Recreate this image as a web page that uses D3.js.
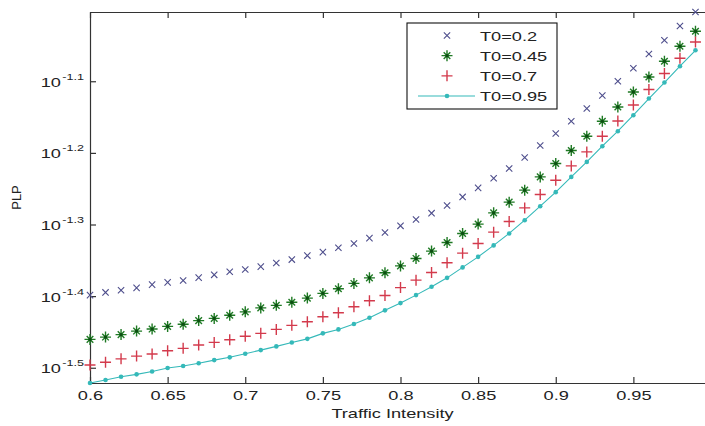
<!DOCTYPE html>
<html>
<head>
<meta charset="utf-8">
<script src="https://cdn.jsdelivr.net/npm/d3@7"></script>
<style>
  body { margin: 0; background: #fff; }
  svg { display: block; }
  text { font-family: "Liberation Sans", Arial, sans-serif; fill: #222; }
</style>
</head>
<body>
<svg id="svg"></svg>
<script>
// traffic intensity values (x)
const intensity = [0.60, 0.61, 0.62, 0.63, 0.64, 0.65, 0.66, 0.67, 0.68, 0.69,
  0.70, 0.71, 0.72, 0.73, 0.74, 0.75, 0.76, 0.77, 0.78, 0.79,
  0.80, 0.81, 0.82, 0.83, 0.84, 0.85, 0.86, 0.87, 0.88, 0.89,
  0.90, 0.91, 0.92, 0.93, 0.94, 0.95, 0.96, 0.97, 0.98, 0.99];

// PLP
const plpT02 = [0.03994, 0.04029, 0.04056, 0.04088, 0.04131, 0.04161, 0.04187, 0.04225, 0.04263, 0.04305,
  0.04338, 0.04377, 0.04429, 0.04477, 0.04535, 0.04586, 0.04650, 0.04716, 0.04797, 0.04885,
  0.04990, 0.05094, 0.05198, 0.05328, 0.05477, 0.05638, 0.05816, 0.06001, 0.06216, 0.06461,
  0.06715, 0.06985, 0.07276, 0.07587, 0.07943, 0.08282, 0.08671, 0.09062, 0.09487, 0.09924];
const plpT045 = [0.03464, 0.03490, 0.03518, 0.03558, 0.03581, 0.03612, 0.03637, 0.03680, 0.03706, 0.03743,
  0.03785, 0.03833, 0.03865, 0.03903, 0.03956, 0.04016, 0.04076, 0.04147, 0.04222, 0.04291,
  0.04387, 0.04494, 0.04601, 0.04731, 0.04870, 0.05018, 0.05203, 0.05385, 0.05597, 0.05841,
  0.06098, 0.06358, 0.06657, 0.06985, 0.07314, 0.07675, 0.08054, 0.08470, 0.08889, 0.09327];
const plpT07 = [0.03190, 0.03218, 0.03254, 0.03283, 0.03305, 0.03340, 0.03366, 0.03402, 0.03431, 0.03460,
  0.03499, 0.03532, 0.03577, 0.03624, 0.03666, 0.03725, 0.03773, 0.03847, 0.03922, 0.03990,
  0.04092, 0.04191, 0.04296, 0.04431, 0.04571, 0.04716, 0.04890, 0.05061, 0.05287, 0.05520,
  0.05779, 0.06051, 0.06329, 0.06657, 0.06992, 0.07361, 0.07734, 0.08142, 0.08553, 0.09012];
const plpT095 = [0.03011, 0.03040, 0.03072, 0.03096, 0.03124, 0.03159, 0.03180, 0.03208, 0.03241, 0.03270,
  0.03308, 0.03347, 0.03387, 0.03429, 0.03470, 0.03532, 0.03577, 0.03639, 0.03713, 0.03803,
  0.03893, 0.03994, 0.04102, 0.04222, 0.04366, 0.04517, 0.04686, 0.04870, 0.05082, 0.05316,
  0.05561, 0.05841, 0.06129, 0.06446, 0.06765, 0.07121, 0.07514, 0.07910, 0.08336, 0.08775];

const seriesNames = ["T0=0.2", "T0=0.45", "T0=0.7", "T0=0.95"];
const xTicks = [0.6, 0.65, 0.7, 0.75, 0.8, 0.85, 0.9, 0.95];
const yTickExps = [-1.5, -1.4, -1.3, -1.2, -1.1];

const width = 705, height = 426;
const plotLeft = 90, plotTop = 12, plotBottom = 383, plotRight = 711;
const stretch = 1.4; // text in the picture looks horizontally stretched

const series = [
  { name: seriesNames[0], values: plpT02, color: "#4e4e8c", marker: "x" },
  { name: seriesNames[1], values: plpT045, color: "#1f7a24", marker: "star" },
  { name: seriesNames[2], values: plpT07, color: "#d33a4c", marker: "plus" },
  { name: seriesNames[3], values: plpT095, color: "#35b9b9", marker: "dot" }
];

const svg = d3.select("#svg").attr("width", width).attr("height", height);

const x = d3.scaleLinear().domain([0.6, 1.0]).range([plotLeft, plotRight]);
const allValues = [].concat(plpT02, plpT045, plpT07, plpT095);
const y = d3.scaleLog().domain(d3.extent(allValues)).range([plotBottom, plotTop]);

function markerPath(type, s) {
  const p = d3.path();
  if (type === "x") {
    const h = s * 0.7;
    p.moveTo(-h, -h); p.lineTo(h, h);
    p.moveTo(-h, h); p.lineTo(h, -h);
  } else if (type === "plus") {
    p.moveTo(-s, 0); p.lineTo(s, 0);
    p.moveTo(0, -s); p.lineTo(0, s);
  } else if (type === "star") {
    const h = s * 0.6;
    p.moveTo(-s, 0); p.lineTo(s, 0);
    p.moveTo(0, -s); p.lineTo(0, s);
    p.moveTo(-h, -h); p.lineTo(h, h);
    p.moveTo(-h, h); p.lineTo(h, -h);
  }
  return p.toString();
}

function drawMarker(g, type, color) {
  if (type === "dot") {
    g.append("circle").attr("r", 2.3).attr("fill", color);
  } else {
    const s = type === "x" ? 4.5 : 5.5;
    g.append("path")
      .attr("d", markerPath(type, s))
      .attr("stroke", color)
      .attr("stroke-width", type === "x" ? 1.1 : 1.4)
      .attr("fill", "none");
    if (type === "star") {
      g.append("circle").attr("r", 1.6).attr("fill", "#0d4d12");
    }
  }
}

// clip region for the plot
svg.append("clipPath").attr("id", "plotclip")
  .append("rect")
  .attr("x", plotLeft - 8).attr("y", plotTop - 8)
  .attr("width", plotRight - plotLeft + 16).attr("height", plotBottom - plotTop + 16);

// axes box + inward ticks
const axisColor = "#333";
const yTickVals = yTickExps.map(e => Math.pow(10, e));

const xAxis = svg.append("g")
  .attr("transform", "translate(0," + plotBottom + ")")
  .call(d3.axisBottom(x).tickValues(xTicks).tickSize(-6).tickSizeOuter(0).tickFormat(""));
const xAxisTop = svg.append("g")
  .attr("transform", "translate(0," + plotTop + ")")
  .call(d3.axisTop(x).tickValues(xTicks).tickSize(-6).tickSizeOuter(0).tickFormat(""));
const yAxis = svg.append("g")
  .attr("transform", "translate(" + plotLeft + ",0)")
  .call(d3.axisLeft(y).tickValues(yTickVals).tickSize(-6).tickSizeOuter(0).tickFormat(""));
const yAxisRight = svg.append("g")
  .attr("transform", "translate(" + plotRight + ",0)")
  .call(d3.axisRight(y).tickValues(yTickVals).tickSize(-6).tickSizeOuter(0).tickFormat(""));

[xAxis, xAxisTop, yAxis, yAxisRight].forEach(a => {
  a.selectAll("path.domain").attr("stroke", axisColor).attr("stroke-width", 1.2);
  a.selectAll(".tick line").attr("stroke", axisColor).attr("stroke-width", 1.2);
});

// x tick labels
xAxis.selectAll(".tick").each(function(d) {
  d3.select(this).append("text")
    .attr("transform", "translate(0,17) scale(" + stretch + ",1)")
    .attr("text-anchor", "middle")
    .attr("font-size", 13)
    .text(String(+d.toFixed(2)));
});

// y tick labels 10^e
yAxis.selectAll(".tick").each(function(d, i) {
  const t = d3.select(this).append("text")
    .attr("transform", "translate(-6,5) scale(" + stretch + ",1)")
    .attr("text-anchor", "end")
    .attr("font-size", 13);
  t.append("tspan").text("10");
  t.append("tspan").attr("font-size", 9).attr("dy", -7).attr("dx", 1).text(String(yTickExps[i]));
});

// axis titles
svg.append("text")
  .attr("transform", "translate(" + ((plotLeft + plotRight) / 2 - 8) + ",418) scale(" + stretch + ",1)")
  .attr("text-anchor", "middle")
  .attr("font-size", 13)
  .text("Traffic Intensity");

svg.append("text")
  .attr("transform", "translate(21," + ((plotTop + plotBottom) / 2) + ") rotate(-90)")
  .attr("text-anchor", "middle")
  .attr("font-size", 13)
  .text("PLP");

// data
const plot = svg.append("g").attr("clip-path", "url(#plotclip)");

const line = d3.line()
  .x((d, i) => x(intensity[i]))
  .y(d => y(d));

plot.append("path")
  .datum(plpT095)
  .attr("d", line)
  .attr("fill", "none")
  .attr("stroke", series[3].color)
  .attr("stroke-width", 1.1);

series.forEach(s => {
  plot.append("g").selectAll("g")
    .data(s.values)
    .enter()
    .append("g")
    .attr("transform", (d, i) => "translate(" + x(intensity[i]) + "," + y(d) + ")")
    .each(function() { drawMarker(d3.select(this), s.marker, s.color); });
});

// legend
const legend = svg.append("g").attr("transform", "translate(407,23)");
legend.append("rect")
  .attr("width", 150).attr("height", 86)
  .attr("fill", "#fff").attr("stroke", "#111").attr("stroke-width", 1.1);

const legendRow = d3.scaleLinear().domain([0, 3]).range([12.5, 73]);

series.forEach((s, i) => {
  const row = legend.append("g").attr("transform", "translate(0," + legendRow(i) + ")");
  if (s.marker === "dot") {
    row.append("line").attr("x1", 11).attr("x2", 68)
      .attr("stroke", s.color).attr("stroke-width", 1.1);
  }
  const m = row.append("g").attr("transform", "translate(40,0)");
  drawMarker(m, s.marker, s.color);
  row.append("text")
    .attr("transform", "translate(73,5) scale(" + stretch + ",1)")
    .attr("font-size", 13)
    .text(s.name);
});
</script>
</body>
</html>
